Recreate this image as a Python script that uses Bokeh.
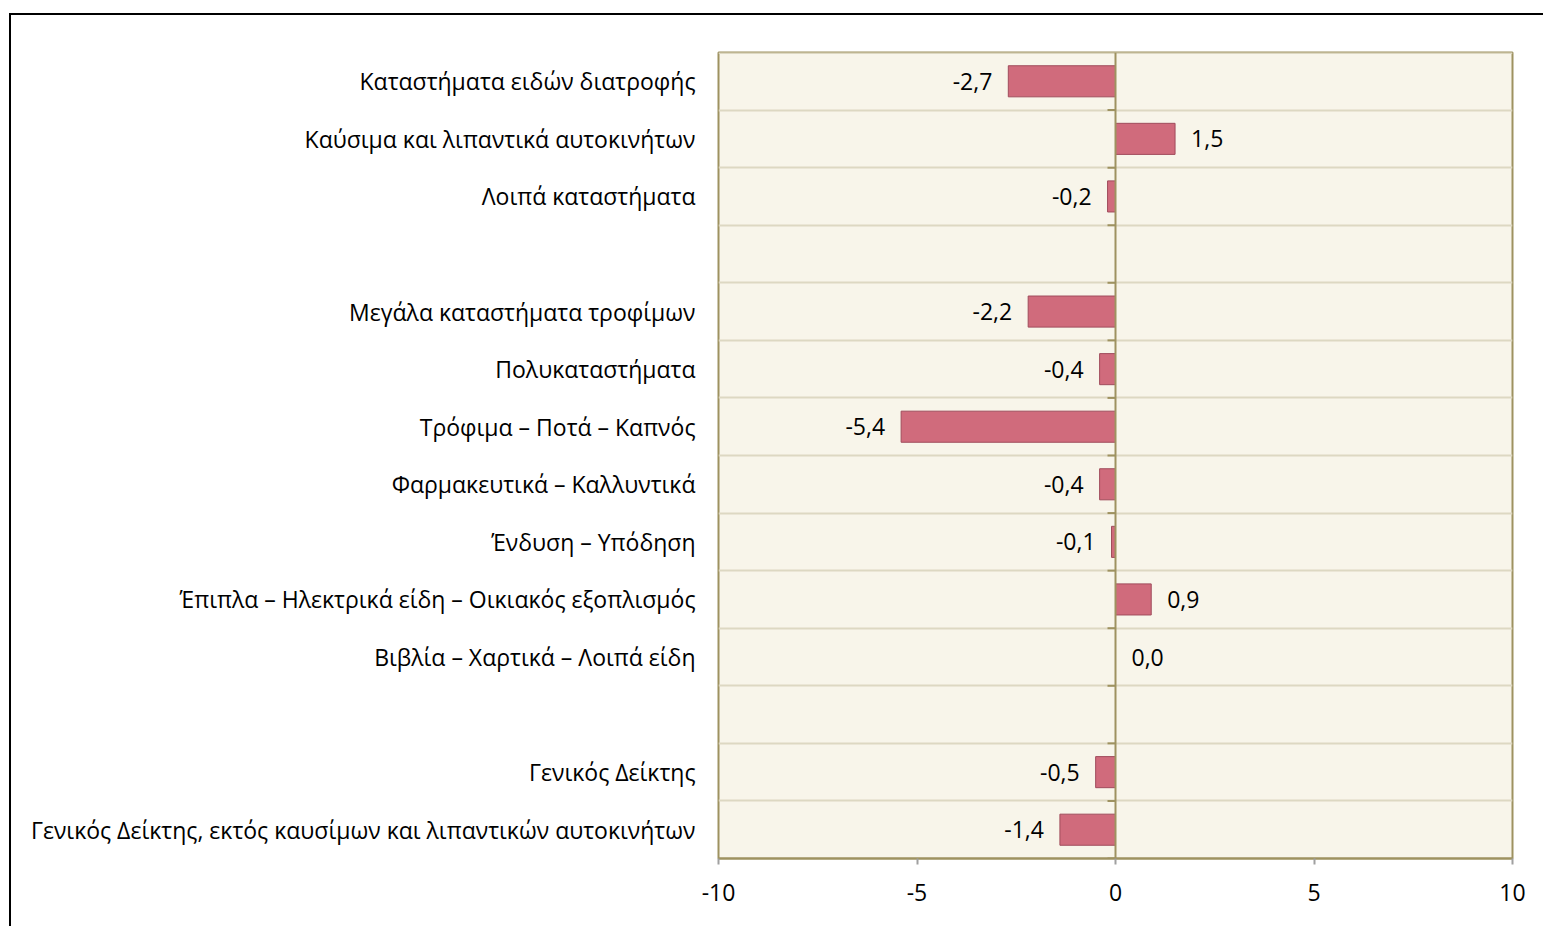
import numpy as np
from bokeh.plotting import figure
from bokeh.models import ColumnDataSource, FixedTicker, Span, LabelSet
from bokeh.core.properties import value
from bokeh.embed import file_html
from bokeh.resources import INLINE

categories = [
    "Καταστήματα ειδών διατροφής",
    "Καύσιμα και λιπαντικά αυτοκινήτων",
    "Λοιπά καταστήματα",
    "",
    "Μεγάλα καταστήματα τροφίμων",
    "Πολυκαταστήματα",
    "Τρόφιμα – Ποτά – Καπνός",
    "Φαρμακευτικά – Καλλυντικά",
    "Ένδυση – Υπόδηση",
    "Έπιπλα – Ηλεκτρικά είδη – Οικιακός εξοπλισμός",
    "Βιβλία – Χαρτικά – Λοιπά είδη",
    "",
    "Γενικός Δείκτης",
    "Γενικός Δείκτης, εκτός καυσίμων και λιπαντικών αυτοκινήτων",
]
values = [-2.7, 1.5, -0.2, None, -2.2, -0.4, -5.4, -0.4, -0.1, 0.9, 0.0, None, -0.5, -1.4]
x_ticks = [-10, -5, 0, 5, 10]
x_tick_labels = ["-10", "-5", "0", "5", "10"]

FONT = "Open Sans"
FS = "23px"
BG = "#F8F5EA"
GRID = "#DDD8C2"
OLIVE = "#9E9260"
BAR = "#D06B7C"
BAR_LINE = "#A04C5C"

n = len(categories)
ypos = [n - i - 0.5 for i in range(n)]

bars_y, bars_x = [], []
lab_pos = {"x": [], "y": [], "t": []}
lab_neg = {"x": [], "y": [], "t": []}
for y, v in zip(ypos, values):
    if v is None:
        continue
    bars_y.append(y)
    bars_x.append(v)
    d = lab_neg if v < 0 else lab_pos
    d["x"].append(v)
    d["y"].append(y)
    d["t"].append(f"{v:.1f}".replace(".", ","))

p = figure(
    x_range=(-10, 10), y_range=(0, n),
    frame_width=794, frame_height=806,
    min_border_left=707, min_border_right=31, min_border_top=37, min_border_bottom=68,
    output_backend="svg", toolbar_location=None,
    background_fill_color=BG, border_fill_color="white",
)
p.styles = {"border-left": "2px solid black", "border-top": "2px solid black",
            "margin-top": "13px", "margin-left": "9px"}
p.outline_line_color = OLIVE
p.outline_line_width = 2

# grid
p.xgrid.visible = False
p.ygrid.ticker = FixedTicker(ticks=list(range(1, n)))
p.ygrid.grid_line_color = GRID
p.ygrid.grid_line_width = 2

# top edge in grid colour
p.add_layout(Span(location=n, dimension="width", line_color=GRID, line_width=3))

# bars
src = ColumnDataSource(dict(y=bars_y, right=bars_x))
p.hbar(y="y", left=0, right="right", height=0.54, source=src,
       fill_color=BAR, line_color=BAR_LINE, line_width=1)

# zero line and its small ticks
p.add_layout(Span(location=0, dimension="height", line_color=OLIVE, line_width=2))
p.ray(x=[0] * (n + 1), y=list(range(0, n + 1)), length=8, length_units="screen",
      angle=np.pi, line_color=OLIVE, line_width=2)

# value labels
for d, off, align in ((lab_neg, -16, "right"), (lab_pos, 16, "left")):
    ls = LabelSet(x="x", y="y", text="t", source=ColumnDataSource(d), x_offset=off,
                  text_align=align, text_baseline="middle", text_font=value(FONT),
                  text_font_size=FS, text_color="black")
    p.add_layout(ls)

# y axis (category labels)
p.yaxis.ticker = FixedTicker(ticks=[y for y, c in zip(ypos, categories) if c])
p.yaxis.major_label_overrides = {y: c for y, c in zip(ypos, categories) if c}
p.yaxis.axis_line_color = None
p.yaxis.major_tick_line_color = None
p.yaxis.minor_tick_line_color = None
p.yaxis.major_label_standoff = 17
p.yaxis.major_label_text_font = FONT
p.yaxis.major_label_text_font_size = FS
p.yaxis.major_label_text_color = "black"

# x axis
p.xaxis.ticker = FixedTicker(ticks=x_ticks)
p.xaxis.major_label_overrides = dict(zip(x_ticks, x_tick_labels))
p.xaxis.axis_line_color = OLIVE
p.xaxis.axis_line_width = 2
p.xaxis.major_tick_line_color = "#A0A0A0"
p.xaxis.major_tick_line_width = 2
p.xaxis.major_tick_out = 6
p.xaxis.major_tick_in = 0
p.xaxis.minor_tick_line_color = None
p.xaxis.major_label_standoff = 19
p.xaxis.major_label_text_font = FONT
p.xaxis.major_label_text_font_size = FS
p.xaxis.major_label_text_color = "black"

open("out.html", "w").write(file_html(p, INLINE))
